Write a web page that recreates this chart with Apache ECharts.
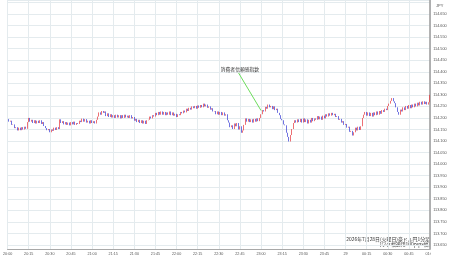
<!DOCTYPE html>
<html><head><meta charset="utf-8">
<script src="https://cdn.jsdelivr.net/npm/echarts@6/dist/echarts.min.js"></script>
<style>html,body{margin:0;padding:0;background:#fff}#c{width:450px;height:258px}</style>
</head><body><div id="c"></div>
<script>
// 1-minute closes, 20:00 -> 01:00 (301 candles)
const firstOpen = 114.198;
const closes = [
114.195,114.184,
114.188,114.170,114.172,114.156,114.160,
114.146,114.158,114.147,114.160,114.150,114.162,114.153,
114.182,114.200,
114.184,114.192,114.178,114.190,114.176,114.188,114.178,114.190,114.174,114.182,
114.165,114.156,114.147,114.152,114.138,114.150,
114.144,114.158,114.148,114.160,114.152,
114.194,
114.178,114.186,114.172,114.182,114.170,114.180,114.168,114.182,114.172,114.184,114.170,114.178,
114.174,114.188,114.182,114.197,114.184,114.195,114.180,
114.188,114.176,114.190,114.178,114.186,114.176,114.192,
114.206,114.224,114.214,114.230,114.222,
114.228,114.208,114.220,114.204,114.216,114.202,
114.212,114.200,114.214,114.202,114.212,114.198,114.212,114.200,114.214,114.202,114.210,114.200,114.212,114.198,114.204,
114.188,114.196,114.182,114.192,114.178,114.190,114.176,114.188,114.174,114.190,
114.192,114.206,114.198,114.212,114.206,
114.222,114.212,114.226,114.214,114.228,114.214,114.226,114.212,114.224,114.214,114.228,114.212,114.224,114.210,114.218,114.204,
114.216,114.212,114.226,114.220,114.232,114.224,114.240,114.230,114.244,114.236,114.250,114.242,
114.252,114.240,114.254,114.244,114.256,114.246,114.262,114.250,114.258,114.244,114.250,114.236,114.242,114.228,
114.230,114.216,114.228,114.214,114.226,114.212,114.224,114.210,114.216,
114.190,114.180,114.160,114.168,114.152,
114.176,114.164,114.178,114.150,114.164,114.136,114.146,
114.170,114.198,
114.184,114.196,114.182,114.194,114.180,114.196,114.184,114.198,114.186,114.200,
114.216,114.234,114.228,114.248,114.240,114.258,114.246,
114.252,114.238,114.250,114.234,114.240,
114.222,114.212,114.196,114.190,114.172,114.168,
114.136,114.118,114.098,
114.126,114.152,114.178,
114.190,114.180,114.194,114.182,114.196,114.180,
114.198,114.182,114.194,114.176,114.192,114.180,114.200,114.186,114.198,
114.192,114.208,114.194,114.206,114.192,114.210,114.198,
114.216,114.206,114.220,114.210,114.222,114.212,
114.218,114.204,114.208,114.192,114.196,114.180,114.186,114.170,114.174,114.158,114.162,
114.140,114.144,114.124,114.138,
114.158,114.146,114.162,114.148,114.164,
114.200,114.214,114.226,
114.210,114.224,114.208,114.222,114.206,114.224,114.212,114.228,114.214,114.230,114.218,114.234,114.226,
114.240,114.234,114.252,114.262,114.274,114.286,114.272,
114.264,114.246,114.226,114.214,
114.236,114.228,114.246,114.234,114.252,114.240,114.256,114.242,114.258,114.246,114.262,114.250,
114.266,114.254,114.270,114.258,114.272,114.260,114.270,114.258,114.268,
114.300
];
const xTickLabels = ['20:00','20:15','20:30','20:45','21:00','21:15','21:30','21:45','22:00','22:15','22:30','22:45','23:00','23:15','23:30','23:45','29','00:15','00:30','00:45','01:00'];
const eventLabel = '消費者信頼感指数';
const eventTime = '23:00';
const eventLabelTime = '22:45';
const eventLabelPrice = 114.41;
const eventLineStart = ['22:44', 114.395];
const eventLineEndPrice = 114.232;
const captionLines = ['2026年7月28日(火曜日)豪ドル円1分足', '[ワク幅適用100pips幅]'];
const yMin = 113.6327, yMax = 114.7106;

const cats = [];
for (let i = 0; i < closes.length; i++) {
  const t = 20 * 60 + i;
  const hh = Math.floor(t / 60) % 24, mm = t % 60;
  cats.push(String(hh).padStart(2, '0') + ':' + String(mm).padStart(2, '0'));
}
const kdata = closes.map((c, i) => {
  const o = i ? closes[i - 1] : firstOpen;
  return [o, c, Math.min(o, c), Math.max(o, c)];
});

const chart = echarts.init(document.getElementById('c'), null, {renderer: 'canvas'});
const gridColor = '#e4ebee';
chart.setOption({
  animation: false,
  backgroundColor: '#fff',
  grid: {left: 0.85, right: 20, top: 0, bottom: 9},
  xAxis: {
    type: 'category', data: cats, boundaryGap: false,
    axisLine: {lineStyle: {color: '#a8a8a8', width: 1.2}},
    axisTick: {show: false},
    axisLabel: {
      interval: 14, fontSize: 3.7, color: '#555', margin: 2.5,
      fontFamily: 'Liberation Sans, Arial, sans-serif',
      formatter: (v, idx) => idx % 15 === 0 ? xTickLabels[idx / 15] : ''
    },
    splitLine: {show: true, interval: 14, lineStyle: {color: gridColor, width: 1}}
  },
  yAxis: {
    type: 'value', position: 'right', scale: true,
    min: yMin, max: yMax, minInterval: 0.05, maxInterval: 0.05, splitNumber: 21,
    axisLine: {show: true, lineStyle: {color: '#a0a0a0', width: 1.6}},
    axisTick: {show: false},
    axisLabel: {
      showMinLabel: false, showMaxLabel: false, margin: 3.2, fontSize: 3.8, color: '#555',
      fontFamily: 'Liberation Sans, Arial, sans-serif',
      formatter: v => (v > 114.69 ? '' : v.toFixed(3))
    },
    splitLine: {show: true, lineStyle: {color: gridColor, width: 1}}
  },
  series: [{
    type: 'candlestick', data: kdata, barWidth: 1.1,
    itemStyle: {color: '#e5343a', color0: '#3438d4', borderColor: '#e5343a', borderColor0: '#3438d4', borderWidth: 0.7},
    markLine: {
      silent: true, symbol: ['none', 'none'],
      lineStyle: {color: '#5bd84a', width: 0.9, type: 'solid'},
      label: {show: false},
      data: [[{coord: eventLineStart}, {coord: [eventTime, eventLineEndPrice]}]]
    },
    markPoint: {
      silent: true, symbol: 'circle', symbolSize: 0,
      label: {show: true, position: 'inside', fontSize: 4.8, color: '#333', fontFamily: 'Noto Sans CJK JP'},
      data: [{coord: [eventLabelTime, eventLabelPrice], label: {formatter: eventLabel}}]
    }
  }],
  graphic: [
    {type: 'rect', left: 431, top: 250, shape: {width: 19, height: 8}, style: {fill: '#fff'}, z: 100},
    {type: 'text', left: 436, top: 3.5, style: {text: 'JPY', fontSize: 4, fill: '#555', fontFamily: 'Liberation Sans, Arial, sans-serif'}},
    {type: 'text', right: 20, top: 237, style: {text: captionLines[0], fontSize: 4.9, fill: '#333', fontFamily: 'Noto Sans CJK JP', textAlign: 'right'}},
    {type: 'text', right: 20, top: 242, style: {text: captionLines[1], fontSize: 4.9, fill: '#333', fontFamily: 'Noto Sans CJK JP', textAlign: 'right'}}
  ]
});
</script></body></html>
